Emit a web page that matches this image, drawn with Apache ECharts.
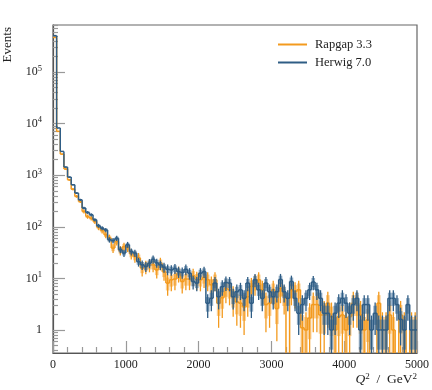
<!DOCTYPE html>
<html>
<head>
<meta charset="utf-8" />
<title>Q2 distribution</title>
<script src="https://cdn.jsdelivr.net/npm/echarts@6/dist/echarts.min.js"></script>
<style>
  html, body { margin: 0; padding: 0; background: #fff; }
  #chart { width: 432px; height: 390px; }
</style>
</head>
<body>
<div id="chart"></div>
<script>
// histogram: 100 bins of 50 GeV^2 from 0 to 5000
const binWidth = 50;

const rapgap = [
  470000, 7100, 2570, 1320, 815, 535, 389, 310, 199, 158,
  147, 127, 98, 85, 70, 61, 38.6, 52, 35, 41,
  40, 30, 26.5, 25, 15.8, 17, 18.3, 18.3, 14.6, 19.7,
  13.5, 8.1, 9.4, 9.7, 12.6, 8.7, 9.7, 9.7, 11.2, 9.7,
  9.4, 10.5, 9.4, 7.5, 9.4, 3.3, 4.2, 6.4, 6, 4.4,
  3.5, 3.3, 2.8, 4.4, 7, 8.1, 9.4, 6, 3.1, 3.3,
  6, 2.6, 6.4, 4.6, 0.3, 6, 5.5, 6, 1.1, 1,
  1.7, 3.1, 3.1, 1.95, 1.95, 3.3, 1.8, 1, 1.8, 1.95,
  1, 1.8, 3.3, 3.3, 1.95, 1, 1.56, 0.3, 0.3, 3.3,
  1, 1, 1.95, 1, 0.3, 1.95, 1, 0.3, 1, 1
];
const rapgapErr = [
  840, 103, 62, 44, 35, 28, 24, 22, 17, 15,
  15, 14, 12, 11, 10, 9.6, 7.6, 8.8, 7.2, 7.8,
  7.7, 6.7, 6.3, 6.1, 4.9, 5, 5.2, 5.2, 4.7, 5.4,
  4.5, 3.5, 3.8, 3.8, 4.3, 3.6, 3.8, 3.8, 4.1, 3.8,
  3.8, 4, 3.8, 3.4, 3.8, 2.2, 2.5, 3.1, 3, 2.6,
  2.3, 2.2, 2, 2.6, 3.2, 3.5, 3.8, 3, 2.2, 2.2,
  3, 2, 3.1, 2.6, 0, 3, 2.9, 3, 1.3, 1.2,
  1.6, 2.2, 2.2, 1.7, 1.7, 2.2, 1.6, 1.2, 1.6, 1.7,
  1.2, 1.6, 2.2, 2.2, 1.7, 1.2, 1.5, 0, 0, 2.2,
  1.2, 1.2, 1.7, 1.2, 0, 1.7, 1.2, 0, 1.2, 1.2
];

const herwig = [
  510000, 8260, 2900, 1440, 920, 655, 451, 334, 231, 190,
  171, 137, 105, 94, 87, 56, 54, 60, 36, 31,
  45, 33, 31, 21, 18.3, 17, 19.7, 23.5, 20, 18.3,
  16.5, 15, 14.6, 15.6, 13.5, 13, 15, 12.6, 8.7, 8.1,
  12.6, 13.5, 3.3, 4.1, 8.1, 4.4, 6.9, 8.3, 8.1, 4.4,
  5.5, 6, 4.1, 8.1, 3.3, 9.4, 6, 4.1, 8.1, 5.5,
  4.4, 5.5, 9.5, 5.5, 4.1, 8.7, 4.1, 2.1, 3.1, 4.1,
  6, 8.5, 6, 4.1, 2.1, 2.1, 1, 2.1, 3.3, 4.1,
  3.3, 2.1, 3.1, 4.1, 1, 3.1, 3.1, 1, 2.1, 1,
  1, 1, 4.1, 4.1, 3.1, 1.6, 1, 3.1, 1, 1
];
const herwigErr = [
  640, 81, 48, 34, 27, 23, 19, 16, 14, 12,
  12, 10, 9.2, 8.7, 8.3, 6.7, 6.6, 6.9, 5.4, 5,
  6, 5.1, 5, 4.1, 3.8, 3.7, 4, 4.3, 4, 3.8,
  3.6, 3.5, 3.4, 3.5, 3.3, 3.2, 3.5, 3.2, 2.6, 2.5,
  3.2, 3.3, 1.6, 1.8, 2.5, 1.9, 2.3, 2.6, 2.5, 1.9,
  2.1, 2.2, 1.8, 2.5, 1.6, 2.7, 2.2, 1.8, 2.5, 2.1,
  1.9, 2.1, 2.7, 2.1, 1.8, 2.6, 1.8, 1.3, 1.6, 1.8,
  2.2, 2.6, 2.2, 1.8, 1.3, 1.3, 0.9, 1.3, 1.6, 1.8,
  1.6, 1.3, 1.6, 1.8, 0.9, 1.6, 1.6, 0.9, 1.3, 0.9,
  0.9, 0.9, 1.8, 1.8, 1.6, 1.1, 0.9, 1.6, 0.9, 0.9
];

const yMajorTicks = [1, 10, 100, 1000, 10000, 100000];
const yMin = 0.357, yMax = 820000;
const xTicks = [0, 1000, 2000, 3000, 4000, 5000];

// minor ticks at 2..9 x 10^n inside the y range
const yMinorTicks = [];
for (let d = -1; d <= 5; d++) {
  for (let m = 2; m <= 9; m++) {
    const t = m * Math.pow(10, d);
    if (t > yMin && t < yMax) yMinorTicks.push(+t.toPrecision(3));
  }
}

const FONT = '"Liberation Serif", "DejaVu Serif", serif';
const TXT = '#222';

function histRender(vals, errs, lineColor, fillColor) {
  return function (params, api) {
    const i = params.dataIndex;
    const lo = i * binWidth, hi = lo + binWidth, mid = lo + binWidth / 2;
    const v = vals[i], e = errs[i];
    const floor = 0.01;
    const p0 = api.coord([lo, v]);
    const p1 = api.coord([hi, v]);
    const bTop = api.coord([lo, v + 0.65 * e])[1];
    const bBot = api.coord([lo, Math.max(v - 0.65 * e, floor)])[1];
    const lTop = api.coord([mid, v + e]);
    const lBot = api.coord([mid, Math.max(v - e, floor)]);
    const children = [];
    if (e > 0) {
      children.push({
        type: 'rect',
        shape: { x: p0[0], y: bTop, width: p1[0] - p0[0], height: bBot - bTop },
        style: { fill: fillColor }
      });
      children.push({
        type: 'line',
        shape: { x1: lTop[0], y1: lTop[1], x2: lBot[0], y2: lBot[1] },
        style: { stroke: lineColor, lineWidth: 1.3 }
      });
    }
    children.push({
      type: 'line',
      shape: { x1: p0[0], y1: p0[1], x2: p1[0], y2: p1[1] },
      style: { stroke: lineColor, lineWidth: 1.5 }
    });
    if (i > 0) {
      const prev = api.coord([lo, vals[i - 1]]);
      children.push({
        type: 'line',
        shape: { x1: p0[0], y1: prev[1], x2: p0[0], y2: p0[1] },
        style: { stroke: lineColor, lineWidth: 1.5 }
      });
    }
    return { type: 'group', children: children };
  };
}

function histData(vals) {
  return vals.map((v, i) => [i * binWidth, (i + 1) * binWidth, v]);
}

const chart = echarts.init(document.getElementById('chart'));

chart.setOption({
  animation: false,
  backgroundColor: '#fff',
  grid: {
    left: 53, right: 14, top: 25, bottom: 37,
    show: true, borderColor: '#666', borderWidth: 1.2
  },
  legend: {
    orient: 'vertical',
    left: 273, top: 33,
    itemWidth: 29, itemHeight: 2, itemGap: 5,
    textStyle: { fontFamily: FONT, fontSize: 12.5, color: TXT, padding: [0, 0, 0, 3] },
    data: [
      { name: 'Rapgap 3.3', icon: 'rect' },
      { name: 'Herwig 7.0', icon: 'rect' }
    ]
  },
  xAxis: {
    type: 'value',
    min: 0, max: 5000, interval: 1000,
    axisLine: { show: true, lineStyle: { color: '#555', width: 1.2 } },
    axisTick: { inside: true, length: 12, lineStyle: { color: '#999', width: 1.2 } },
    minorTick: { show: true, splitNumber: 5, length: 6, lineStyle: { color: '#999', width: 1.2 } },
    splitLine: { show: false },
    axisLabel: {
      customValues: xTicks,
      formatter: function (v) { return String(v); },
      margin: 6, fontFamily: FONT, fontSize: 12, color: TXT
    },
    name: '{i|Q}{s|2}  /  GeV{s|2}',
    nameLocation: 'end',
    nameGap: 0,
    nameTextStyle: {
      align: 'right', verticalAlign: 'top', padding: [19, 0, 0, 0],
      fontFamily: FONT, fontSize: 13.5, color: TXT,
      rich: {
        i: { fontFamily: FONT, fontSize: 13.5, fontStyle: 'italic', color: TXT },
        s: { fontFamily: FONT, fontSize: 9, color: TXT, verticalAlign: 'top', lineHeight: 10 }
      }
    }
  },
  yAxis: [
    {
      type: 'log',
      min: yMin, max: yMax,
      axisLine: { show: true, lineStyle: { color: '#555', width: 1.2 } },
      axisTick: { inside: true, length: 12, customValues: yMajorTicks, lineStyle: { color: '#999', width: 1.2 } },
      splitLine: { show: false },
      axisLabel: {
        customValues: yMajorTicks,
        margin: 11,
        formatter: function (v) {
          if (v === 1) return '{b|1}';
          return '{b|10}{s|' + Math.round(Math.log10(v)) + '}';
        },
        rich: {
          b: { fontFamily: FONT, fontSize: 12, color: TXT, lineHeight: 16 },
          s: { fontFamily: FONT, fontSize: 8.5, color: TXT, verticalAlign: 'top', lineHeight: 10 }
        }
      }
    },
    {
      type: 'log',
      min: yMin, max: yMax,
      position: 'left',
      axisLine: { show: false },
      axisTick: { inside: true, length: 5, customValues: yMinorTicks, lineStyle: { color: '#999', width: 1.2 } },
      axisLabel: { show: false },
      splitLine: { show: false }
    }
  ],
  graphic: [
    {
      type: 'text',
      x: 8, y: 27,
      rotation: Math.PI / 2,
      style: { text: 'Events', font: '13px ' + FONT, fill: TXT, align: 'right', verticalAlign: 'middle' }
    }
  ],
  series: [
    {
      name: 'Rapgap 3.3',
      type: 'custom',
      clip: true,
      itemStyle: { color: '#f39a1e' },
      encode: { x: [0, 1], y: 2 },
      data: histData(rapgap),
      renderItem: histRender(rapgap, rapgapErr, '#f39a1e', 'rgba(245,165,60,0.55)')
    },
    {
      name: 'Herwig 7.0',
      type: 'custom',
      clip: true,
      itemStyle: { color: '#2f5d85' },
      encode: { x: [0, 1], y: 2 },
      data: histData(herwig),
      renderItem: histRender(herwig, herwigErr, '#2f5d85', 'rgba(70,115,155,0.6)')
    }
  ]
});
</script>
</body>
</html>
